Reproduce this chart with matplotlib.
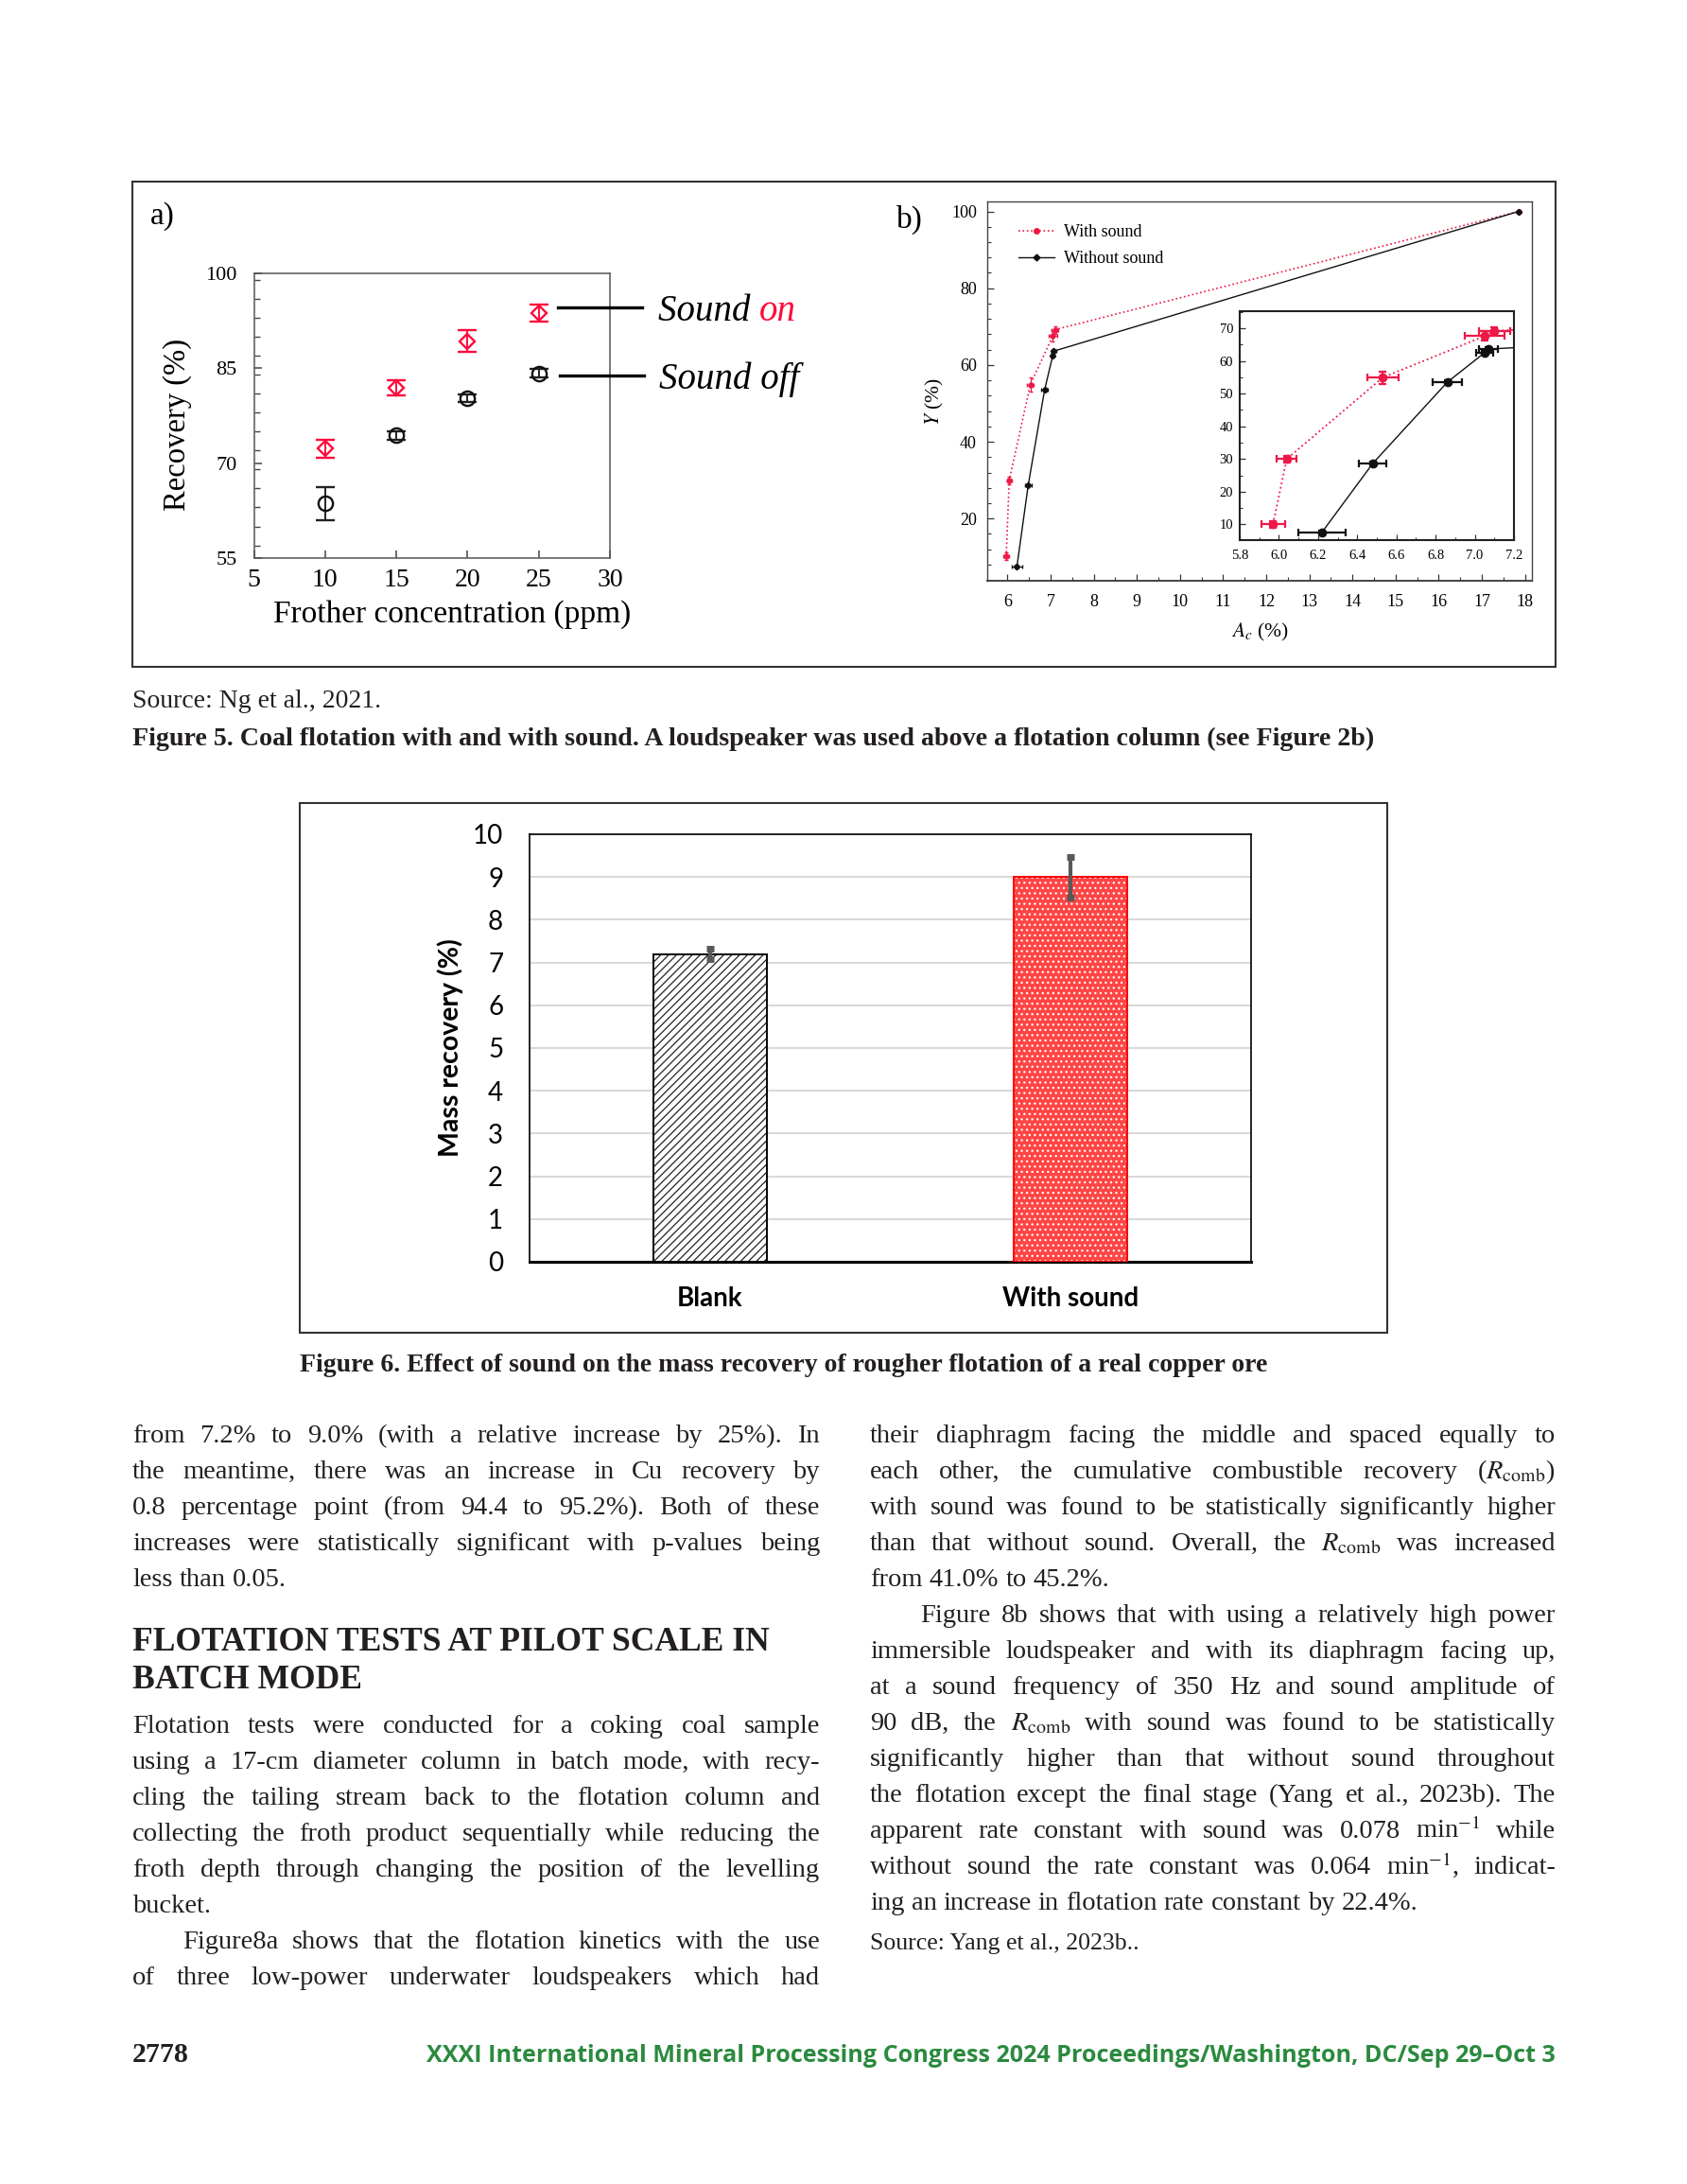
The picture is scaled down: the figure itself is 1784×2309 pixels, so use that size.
import matplotlib
matplotlib.use('Agg')
import matplotlib.pyplot as plt
from matplotlib.lines import Line2D
from matplotlib.patches import Rectangle
from matplotlib.ticker import MultipleLocator
import numpy as np

W, H = 1784, 2309
plt.rcParams['mathtext.fontset'] = 'stix'
plt.rcParams['hatch.linewidth'] = 0.9

SERIF = 'Liberation Serif'
SANS = 'Lato'

# ---------------- data ----------------
# Figure 5a
frother_ppm = [10, 15, 20, 25]
rec_sound_on = [72.3, 81.9, 89.3, 93.7]
rec_sound_on_err = [1.4, 1.2, 1.7, 1.3]
rec_sound_off = [63.6, 74.4, 80.3, 84.2]
rec_sound_off_err = [2.6, 0.7, 0.6, 0.7]

# Figure 5b
ac_with = [5.97, 6.04, 6.53, 7.05, 7.10, 17.85]
y_with = [10.1, 30.0, 54.9, 67.6, 69.2, 100.0]
ac_with_err = [0.06, 0.05, 0.08, 0.10, 0.08, 0.05]
y_with_err = [1.0, 1.0, 1.9, 1.5, 1.0, 0.3]
ac_without = [6.22, 6.48, 6.86, 7.05, 7.07, 17.85]
y_without = [7.6, 28.7, 53.5, 62.5, 63.6, 100.0]
ac_without_err = [0.12, 0.07, 0.075, 0.045, 0.05, 0.05]
y_without_err = [0.5, 0.6, 0.5, 0.6, 0.5, 0.3]

# Figure 6
bar_labels = ['Blank', 'With sound']
mass_recovery = [7.2, 9.0]
mass_recovery_err = [0.13, 0.48]

RED_A = '#ff0a3c'
RED_B = '#ee1846'
TXT = '#231f20'

fig = plt.figure(figsize=(W / 100, H / 100), dpi=100)
fig.patch.set_facecolor('white')


def ax_at(l, t, r, b):
    return fig.add_axes([l / W, 1 - b / H, (r - l) / W, (b - t) / H])


def fx(x):
    return x / W


def fy(y):
    return 1 - y / H


def box(l, t, r, b, lw=1.5, color='#333333'):
    fig.add_artist(Rectangle((fx(l), fy(b)), (r - l) / W, (b - t) / H,
                             transform=fig.transFigure, fill=False,
                             ec=color, lw=lw))


# ---------------- Figure 5 box ----------------
box(140, 192, 1645, 705)

# ---------------- panel a ----------------
axa = ax_at(268.5, 289, 645, 590)
axa.errorbar(frother_ppm, rec_sound_on, yerr=rec_sound_on_err, fmt='D', ms=8,
             mfc='none', mec=RED_A, mew=1.7, ecolor=RED_A, elinewidth=1.4,
             capsize=7, capthick=1.4)
axa.errorbar(frother_ppm, rec_sound_off, yerr=rec_sound_off_err, fmt='o', ms=11,
             mfc='none', mec='#111111', mew=1.7, ecolor='#222222', elinewidth=1.4,
             capsize=7, capthick=1.4)
axa.set_xlim(5, 30)
axa.set_ylim(55, 100)
axa.set_xticks([5, 10, 15, 20, 25, 30])
axa.set_yticks([55, 70, 85, 100])
axa.yaxis.set_minor_locator(MultipleLocator(3))
axa.tick_params(direction='in', length=6, width=1.1, color='#444444')
axa.tick_params(which='minor', direction='in', length=4, width=1.0, color='#444444')
axa.tick_params(axis='x', labelsize=20, pad=8)
axa.tick_params(axis='y', labelsize=16, pad=13)
for lab in axa.get_xticklabels() + axa.get_yticklabels():
    lab.set_fontfamily(SERIF)
for s in axa.spines.values():
    s.set_linewidth(1.1)
    s.set_color('#555555')

fig.text(fx(188), fy(449), 'Recovery (%)', rotation=90, ha='center', va='center',
         family=SERIF, size=23.5)
fig.text(fx(478), fy(650), 'Frother concentration (ppm)', ha='center', va='center',
         family=SERIF, size=24)
fig.text(fx(159), fy(237), 'a)', ha='left', va='baseline', family=SERIF, size=24)

fig.add_artist(Line2D([fx(590), fx(679)], [fy(325), fy(325)], transform=fig.transFigure,
                      color='black', lw=2.4))
fig.add_artist(Line2D([fx(592), fx(681)], [fy(397), fy(397)], transform=fig.transFigure,
                      color='black', lw=2.4))
t_on = fig.text(fx(696), fy(339), 'Sound ', ha='left', va='baseline', family=SERIF,
                style='italic', size=28)
fig.canvas.draw()
rend = fig.canvas.get_renderer()
bb = t_on.get_window_extent(rend)
fig.text(bb.x1 / W, fy(339), 'on', ha='left', va='baseline', family=SERIF,
         style='italic', size=28, color=RED_A)
fig.text(fx(697), fy(411), 'Sound off', ha='left', va='baseline', family=SERIF,
         style='italic', size=28)

# ---------------- panel b ----------------
axb = ax_at(1044, 213, 1620, 614)
axb.errorbar(ac_with, y_with, xerr=ac_with_err, yerr=y_with_err, fmt=':', marker='o',
             ms=3.5, color=RED_B, lw=1.2, elinewidth=0.9, capsize=1.5)
axb.errorbar(ac_without, y_without, xerr=ac_without_err, yerr=y_without_err, fmt='-',
             marker='D', ms=3.2, color='#111111', lw=1.0, elinewidth=0.9, capsize=1.5)
axb.set_xlim(5.53, 18.16)
axb.set_ylim(3.8, 102.6)
axb.set_xticks(range(6, 19))
axb.set_yticks([20, 40, 60, 80, 100])
axb.xaxis.set_minor_locator(MultipleLocator(0.5))
axb.yaxis.set_minor_locator(MultipleLocator(4))
axb.tick_params(direction='in', length=5, width=0.9, labelsize=13, color='#333333')
axb.tick_params(which='minor', direction='in', length=3, width=0.8, color='#333333')
axb.tick_params(axis='x', pad=10)
axb.tick_params(axis='y', pad=8)
for lab in axb.get_xticklabels() + axb.get_yticklabels():
    lab.set_fontfamily(SERIF)
for s in axb.spines.values():
    s.set_linewidth(1.0)
    s.set_color('#444444')
axb.spines['bottom'].set_linewidth(1.4)

fig.text(fx(988), fy(425), r'$Y$ (%)', rotation=90, ha='center', va='center',
         family=SERIF, size=15.5)
fig.text(fx(1332), fy(668), r'$A_c$ (%)', ha='center', va='center', family=SERIF,
         size=15.5)
fig.text(fx(948), fy(241), 'b)', ha='left', va='baseline', family=SERIF, size=24)

handles = [Line2D([], [], color=RED_B, ls=':', marker='o', ms=4, lw=1.2),
           Line2D([], [], color='#111111', ls='-', marker='D', ms=3.5, lw=1.0)]
leg = axb.legend(handles, ['With sound', 'Without sound'], loc='upper left',
                 bbox_to_anchor=(0.057, 0.94), frameon=False, borderpad=0,
                 borderaxespad=0, handlelength=2.1, handletextpad=0.55,
                 labelspacing=0.62, prop=dict(family=SERIF, size=13))

# inset
axi = ax_at(1311, 329, 1601, 571)
axi.errorbar(ac_with, y_with, xerr=ac_with_err, yerr=y_with_err, fmt=':', marker='o',
             ms=6, color=RED_B, lw=1.3, elinewidth=1.6, capsize=3, capthick=1.6)
axi.errorbar(ac_without, y_without, xerr=ac_without_err, yerr=y_without_err, fmt='-',
             marker='o', ms=6, color='#111111', lw=1.0, elinewidth=1.6, capsize=3,
             capthick=1.6)
axi.set_xlim(5.8, 7.2)
axi.set_ylim(5.2, 75.2)
axi.set_xticks([5.8, 6.0, 6.2, 6.4, 6.6, 6.8, 7.0, 7.2])
axi.set_xticklabels(['5.8', '6.0', '6.2', '6.4', '6.6', '6.8', '7.0', '7.2'])
axi.set_yticks([10, 20, 30, 40, 50, 60, 70])
axi.xaxis.set_minor_locator(MultipleLocator(0.1))
axi.yaxis.set_minor_locator(MultipleLocator(5))
axi.tick_params(direction='in', length=4, width=0.9, labelsize=10.5, color='#333333')
axi.tick_params(which='minor', direction='in', length=2.5, width=0.8, color='#333333')
axi.tick_params(axis='x', pad=7)
axi.tick_params(axis='y', pad=5)
for lab in axi.get_xticklabels() + axi.get_yticklabels():
    lab.set_fontfamily(SERIF)
for s in axi.spines.values():
    s.set_linewidth(1.5)
    s.set_color('#222222')

# ---------------- Figure 6 ----------------
box(317, 849, 1467, 1409)
axc = ax_at(560, 882, 1323, 1334)
pos = np.arange(len(bar_labels))
bars = axc.bar(pos, mass_recovery, width=0.314, color=['white', '#ff4545'],
               edgecolor=['#222222', 'white'], linewidth=0, zorder=3)
bars[0].set_hatch('////')
bars[1].set_hatch('...')
axc.bar(pos, mass_recovery, width=0.314, fill=False, edgecolor=['black', '#ff0000'],
        linewidth=1.4, zorder=4)
axc.errorbar(pos, mass_recovery, yerr=mass_recovery_err, fmt='none', ecolor='#595959',
             elinewidth=3, capsize=3, capthick=5, zorder=5)
axc.set_xlim(-0.5, 1.5)
axc.set_ylim(0, 10)
axc.set_yticks(range(0, 11))
axc.set_xticks(pos)
axc.set_xticklabels(bar_labels)
axc.yaxis.grid(True, color='#d9d9d9', lw=1.5)
axc.set_axisbelow(True)
axc.tick_params(length=0)
axc.tick_params(axis='y', labelsize=20, pad=20)
axc.tick_params(axis='x', labelsize=20, pad=19)
for lab in axc.get_yticklabels():
    lab.set_fontfamily(SANS)
for lab in axc.get_xticklabels():
    lab.set_fontfamily(SANS)
    lab.set_fontweight('bold')
for s in axc.spines.values():
    s.set_linewidth(1.2)
    s.set_color('black')
axc.spines['bottom'].set_linewidth(2.2)
fig.text(fx(476), fy(1108), 'Mass recovery (%)', rotation=90, ha='center', va='center',
         family=SANS, weight='bold', size=20.5)

# ---------------- captions ----------------
fig.text(fx(140), fy(748), 'Source: Ng et al., 2021.', ha='left', va='baseline',
         family=SERIF, size=20, color=TXT)
fig.text(fx(140), fy(788), 'Figure 5. Coal flotation with and with sound. A loudspeaker was '
         'used above a flotation column (see Figure 2b)', ha='left', va='baseline',
         family=SERIF, weight='bold', size=20.2, color=TXT)
fig.text(fx(317), fy(1450), 'Figure 6. Effect of sound on the mass recovery of rougher '
         'flotation of a real copper ore', ha='left', va='baseline', family=SERIF,
         weight='bold', size=20.0, color=TXT)

# ---------------- body text ----------------
BODY = dict(family=SERIF, size=20.5, color=TXT)


def word_w(s, **kw):
    t = fig.text(0, 0, s, **kw)
    w = t.get_window_extent(rend).width
    t.remove()
    return w


SPACE = word_w('a a', **BODY) - word_w('aa', **BODY)


def place_line(text, x0, x1, base, justify=True, indent=0, kw=BODY):
    words = text.split(' ')
    ws = [word_w(w, **kw) for w in words]
    xs = x0 + indent
    if justify and len(words) > 1:
        gap = (x1 - xs - sum(ws)) / (len(words) - 1)
    else:
        gap = SPACE
    x = xs
    for w, wd in zip(words, ws):
        fig.text(fx(x), fy(base), w, ha='left', va='baseline', **kw)
        x += wd + gap


LX0, LX1 = 140, 867
RX0, RX1 = 920, 1645
IND = 53
LS = 38.0

left1 = [('from 7.2% to 9.0% (with a relative increase by 25%). In', True, 0),
         ('the meantime, there was an increase in Cu recovery by', True, 0),
         ('0.8 percentage point (from 94.4 to 95.2%). Both of these', True, 0),
         ('increases were statistically significant with p-values being', True, 0),
         ('less than 0.05.', False, 0)]
for i, (t, j, ind) in enumerate(left1):
    place_line(t, LX0, LX1, 1525 + i * LS, j, ind)

HEAD = dict(family=SERIF, size=25.6, weight='bold', color=TXT)
fig.text(fx(140), fy(1745), 'FLOTATION TESTS AT PILOT SCALE IN', ha='left',
         va='baseline', **HEAD)
fig.text(fx(140), fy(1785), 'BATCH MODE', ha='left', va='baseline', **HEAD)

left2 = [('Flotation tests were conducted for a coking coal sample', True, 0),
         ('using a 17-cm diameter column in batch mode, with recy-', True, 0),
         ('cling the tailing stream back to the flotation column and', True, 0),
         ('collecting the froth product sequentially while reducing the', True, 0),
         ('froth depth through changing the position of the levelling', True, 0),
         ('bucket.', False, 0),
         ('Figure8a shows that the flotation kinetics with the use', True, IND),
         ('of three low-power underwater loudspeakers which had', True, 0)]
for i, (t, j, ind) in enumerate(left2):
    place_line(t, LX0, LX1, 1832 + i * LS, j, ind)

right = [('their diaphragm facing the middle and spaced equally to', True, 0),
         (r'each other, the cumulative combustible recovery ($R_{\mathrm{comb}}$)', True, 0),
         ('with sound was found to be statistically significantly higher', True, 0),
         (r'than that without sound. Overall, the $R_{\mathrm{comb}}$ was increased', True, 0),
         ('from 41.0% to 45.2%.', False, 0),
         ('Figure 8b shows that with using a relatively high power', True, IND),
         ('immersible loudspeaker and with its diaphragm facing up,', True, 0),
         ('at a sound frequency of 350 Hz and sound amplitude of', True, 0),
         (r'90 dB, the $R_{\mathrm{comb}}$ with sound was found to be statistically', True, 0),
         ('significantly higher than that without sound throughout', True, 0),
         ('the flotation except the final stage (Yang et al., 2023b). The', True, 0),
         (r'apparent rate constant with sound was 0.078 min$^{-1}$ while', True, 0),
         (r'without sound the rate constant was 0.064 min$^{-1}$, indicat-', True, 0),
         ('ing an increase in flotation rate constant by 22.4%.', False, 0)]
for i, (t, j, ind) in enumerate(right):
    place_line(t, RX0, RX1, 1525 + i * LS, j, ind)

fig.text(fx(920), fy(2061), 'Source: Yang et al., 2023b..', ha='left', va='baseline',
         family=SERIF, size=18.5, color=TXT)

# ---------------- footer ----------------
fig.text(fx(140), fy(2180), '2778', ha='left', va='baseline', family=SERIF,
         weight='bold', size=21.5, color=TXT)
fig.text(fx(1645), fy(2180), 'XXXI International Mineral Processing Congress 2024 '
         'Proceedings/Washington, DC/Sep 29\u2013Oct 3', ha='right', va='baseline',
         family='Open Sans', weight='bold', size=18.1, color='#2b8a3e')

fig.savefig('out.png', dpi=100, facecolor='white')
